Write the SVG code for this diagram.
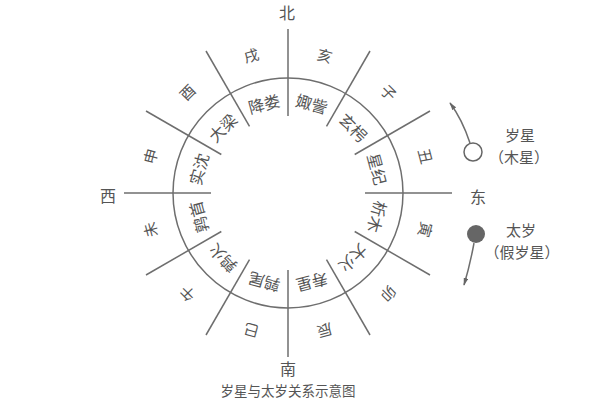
<svg xmlns="http://www.w3.org/2000/svg" width="600" height="400" viewBox="0 0 600 400">
<style>
.ln{stroke:#6e6e6e;stroke-width:1.5;fill:none}
.t{font-family:"Noto Sans CJK SC","Noto Sans CJK TC",sans-serif;fill:#555;text-anchor:middle;dominant-baseline:central}
.in{font-size:16px}
.out{font-size:15px}
.dir{font-size:16px}
.cap{font-size:13.5px}
.lab{font-size:15px}
</style>
<defs>
<marker id="ah" viewBox="0 0 10 6" refX="9" refY="3" markerWidth="8" markerHeight="5" markerUnits="userSpaceOnUse" orient="auto">
<path d="M0,0 L10,3 L0,6 Z" fill="#666"/>
</marker>
</defs>
<rect width="600" height="400" fill="#fff"/>
<g id="ring">
<circle class="ln" cx="288" cy="193" r="115"/>
</g>
<g id="connectors">
<line class="ln" x1="288" y1="116" x2="288" y2="29"/>
<line class="ln" x1="326.5" y1="126.3" x2="370" y2="51"/>
<line class="ln" x1="354.7" y1="154.5" x2="430" y2="111"/>
<line class="ln" x1="365" y1="193" x2="452" y2="193"/>
<line class="ln" x1="354.7" y1="231.5" x2="430" y2="275"/>
<line class="ln" x1="326.5" y1="259.7" x2="370" y2="335"/>
<line class="ln" x1="288" y1="270" x2="288" y2="357"/>
<line class="ln" x1="249.5" y1="259.7" x2="206" y2="335"/>
<line class="ln" x1="221.3" y1="231.5" x2="146" y2="275"/>
<line class="ln" x1="211" y1="193" x2="124" y2="193"/>
<line class="ln" x1="221.3" y1="154.5" x2="146" y2="111"/>
<line class="ln" x1="249.5" y1="126.3" x2="206" y2="51"/>
<path class="ln" stroke-width="1.2" d="M470,143 Q462,119 450,103" marker-end="url(#ah)"/>
<path class="ln" stroke-width="1.2" d="M474,243 Q470,265 464,285" marker-end="url(#ah)"/>
</g>
<g id="branches" class="t out">
<text x="288" y="50" transform="rotate(15 288 193)">亥</text>
<text x="288" y="50" transform="rotate(45 288 193)">子</text>
<text x="288" y="50" transform="rotate(75 288 193)">丑</text>
<text x="288" y="50" transform="rotate(105 288 193)">寅</text>
<text x="288" y="50" transform="rotate(135 288 193)">卯</text>
<text x="288" y="50" transform="rotate(165 288 193)">辰</text>
<text x="288" y="50" transform="rotate(195 288 193)">巳</text>
<text x="288" y="50" transform="rotate(225 288 193)">午</text>
<text x="288" y="50" transform="rotate(255 288 193)">未</text>
<text x="288" y="50" transform="rotate(285 288 193)">申</text>
<text x="288" y="50" transform="rotate(315 288 193)">酉</text>
<text x="288" y="50" transform="rotate(345 288 193)">戌</text>
</g>
<g id="ci" class="t in">
<text x="288" y="100" transform="rotate(15 288 193)">娵訾</text>
<text x="288" y="100" transform="rotate(45 288 193)">玄枵</text>
<text x="288" y="100" transform="rotate(75 288 193)">星纪</text>
<text x="288" y="100" transform="rotate(105 288 193)">析木</text>
<text x="288" y="100" transform="rotate(135 288 193)">大火</text>
<text x="288" y="100" transform="rotate(165 288 193)">寿星</text>
<text x="288" y="100" transform="rotate(195 288 193)">鹑尾</text>
<text x="288" y="100" transform="rotate(225 288 193)">鹑火</text>
<text x="288" y="100" transform="rotate(255 288 193)">鹑首</text>
<text x="288" y="100" transform="rotate(285 288 193)">实沈</text>
<text x="288" y="100" transform="rotate(315 288 193)">大梁</text>
<text x="288" y="100" transform="rotate(345 288 193)">降娄</text>
</g>
<g id="directions" class="t dir">
<text x="287" y="12">北</text>
<text x="288" y="368">南</text>
<text x="478" y="196">东</text>
<text x="108" y="195">西</text>
</g>
<g id="suixing">
<circle cx="473" cy="152" r="9" fill="#fff" stroke="#666" stroke-width="1.5"/>
<text class="t lab" x="520" y="134">岁星</text>
<text class="t lab" x="519" y="156">（木星）</text>
</g>
<g id="taisui">
<circle cx="476" cy="234" r="9" fill="#666"/>
<text class="t lab" x="521" y="229">太岁</text>
<text class="t lab" x="522" y="251">（假岁星）</text>
</g>
<g id="caption">
<text class="t cap" x="288" y="390">岁星与太岁关系示意图</text>
</g>
</svg>
